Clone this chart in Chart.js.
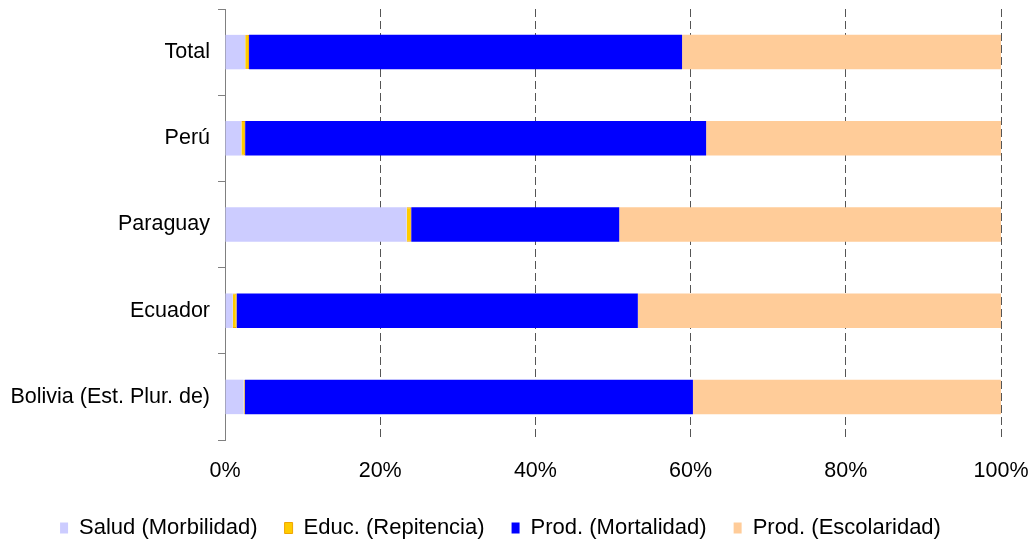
<!DOCTYPE html>
<html>
<head>
<meta charset="utf-8">
<script src="https://cdn.jsdelivr.net/npm/chart.js@4/dist/chart.umd.min.js"></script>
<style>
  html, body { margin: 0; padding: 0; background: #fff; }
  #wrap { width: 1031px; height: 543px; }
</style>
</head>
<body>
<div id="wrap"><canvas id="chart_costos" width="1031" height="543"></canvas></div>
<script>
//Countries shown on the y-axis (top to bottom)
const paises = ["Total", "Perú", "Paraguay", "Ecuador", "Bolivia (Est. Plur. de)"];

//Share of each cost component per country, in %
const salud_morbilidad = [2.6, 2.1, 23.4, 1.0, 2.4];
const educ_repitencia = [0.5, 0.5, 0.6, 0.5, 0.15];
const prod_mortalidad = [55.8, 59.4, 26.8, 51.7, 57.75];
const prod_escolaridad = [41.1, 38.0, 49.2, 46.8, 39.7];

//Ticks of the percentage axis
const ticks_x = [0, 20, 40, 60, 80, 100];

Chart.defaults.font.family = "'Liberation Sans', Arial, sans-serif";
Chart.defaults.font.size = 21.5;
Chart.defaults.color = "#000";

//Build the datasets
let datasets = [
  {label: "Salud (Morbilidad)", data: salud_morbilidad, backgroundColor: "#CCCCFF", borderWidth: 0},
  {label: "Educ. (Repitencia)", data: educ_repitencia, backgroundColor: "#FFCC00", borderColor: "#F0A500", borderWidth: 1},
  {label: "Prod. (Mortalidad)", data: prod_mortalidad, backgroundColor: "#0000FF", borderWidth: 0},
  {label: "Prod. (Escolaridad)", data: prod_escolaridad, backgroundColor: "#FFCC99", borderWidth: 0}
];

datasets.forEach(function (ds) {
  ds.barPercentage = 0.4;
  ds.categoryPercentage = 1;
});

const DOM_chart = document.getElementById("chart_costos");

const chart_costos = new Chart(DOM_chart, {
  type: 'bar',
  data: {
    labels: paises,
    datasets: datasets
  },
  options: {
    indexAxis: 'y',
    responsive: false,
    animation: false,
    layout: {
      padding: {left: 0, right: 30, top: 9, bottom: -6}
    },
    plugins: {
      legend: {
        position: 'bottom',
        labels: {
          boxWidth: 8,
          boxHeight: 11,
          padding: 27,
          font: {size: 22}
        }
      },
      tooltip: {enabled: false}
    },
    scales: {
      x: {
        stacked: true,
        min: 0,
        max: 100,
        afterBuildTicks: function (scale) {
          scale.ticks = ticks_x.map(function (v) { return {value: v}; });
        },
        afterFit: function (scale) {
          //Fixed height, and let the outer labels hang over the edges
          scale.height = 50;
          scale.paddingLeft = 0;
          scale.paddingRight = 0;
        },
        ticks: {
          padding: 18,
          maxRotation: 0,
          callback: function (value) { return value + "%"; }
        },
        grid: {
          drawTicks: false,
          color: function (c) { return c.tick && c.tick.value === 0 ? "rgba(0,0,0,0)" : "#555555"; },
          lineWidth: 1
        },
        border: {display: false, dash: [8, 4]}
      },
      y: {
        stacked: true,
        afterFit: function (scale) {
          scale.width = 225;
          scale.paddingTop = 0;
          scale.paddingBottom = 0;
        },
        ticks: {padding: 8},
        grid: {
          drawOnChartArea: false,
          tickLength: 7,
          color: "#808080"
        },
        border: {display: true, color: "#808080"}
      }
    }
  }
});
</script>
</body>
</html>
